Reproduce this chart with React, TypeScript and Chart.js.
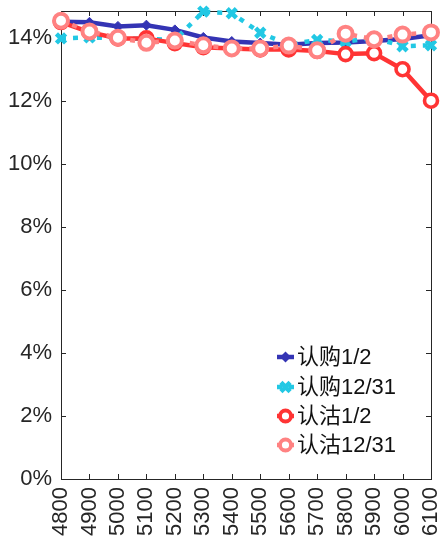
import React, { useEffect, useRef } from 'react';
import { Chart, registerables } from 'chart.js';

Chart.register(...registerables);

const strikes = ['4800', '4900', '5000', '5100', '5200', '5300', '5400', '5500', '5600', '5700', '5800', '5900', '6000', '6100'];
const call0102 = [14.53, 14.51, 14.38, 14.42, 14.27, 14.03, 13.9, 13.85, 13.8, 13.85, 13.87, 13.92, 13.98, 14.1];
const call1231 = [14.0, 14.03, 14.0, 13.98, 13.95, 14.85, 14.8, 14.18, 13.8, 13.95, 13.9, 14.02, 13.75, 13.78];
const put0102 = [14.52, 14.2, 14.0, 14.0, 13.85, 13.72, 13.68, 13.65, 13.65, 13.6, 13.5, 13.53, 13.02, 12.02];
const put1231 = [14.56, 14.22, 14.02, 13.86, 13.93, 13.78, 13.68, 13.68, 13.77, 13.62, 14.15, 13.97, 14.12, 14.19];
const yTicks = [0, 2, 4, 6, 8, 10, 12, 14];
const yMax = 14.87;
const seriesNames = ['认购1/2', '认购12/31', '认沽1/2', '认沽12/31'];

const BLUE = '#3434B4';
const CYAN = '#22C8E4';
const RED = '#FF3434';
const SALMON = '#FF8282';
const AXIS = '#262626';
const FONT = '"Liberation Sans", Arial, "Noto Sans CJK SC", sans-serif';

function drawMarker(ctx: CanvasRenderingContext2D, kind: string, x: number, y: number, color: string) {
  ctx.save();
  ctx.setLineDash([]);
  if (kind === 'diamond') {
    const r = 5.5;
    ctx.fillStyle = color;
    ctx.beginPath();
    ctx.moveTo(x, y - r);
    ctx.lineTo(x + r, y);
    ctx.lineTo(x, y + r);
    ctx.lineTo(x - r, y);
    ctx.closePath();
    ctx.fill();
  } else if (kind === 'cross') {
    const r = 4.6;
    ctx.strokeStyle = color;
    ctx.lineWidth = 4.5;
    ctx.beginPath();
    ctx.moveTo(x - r, y - r);
    ctx.lineTo(x + r, y + r);
    ctx.moveTo(x + r, y - r);
    ctx.lineTo(x - r, y + r);
    ctx.stroke();
  } else {
    ctx.strokeStyle = color;
    ctx.fillStyle = '#fff';
    ctx.lineWidth = 3.8;
    ctx.beginPath();
    ctx.arc(x, y, 5.5, 0, Math.PI * 2);
    ctx.fill();
    ctx.stroke();
  }
  ctx.restore();
}

const framePlugin = {
  id: 'frame',
  beforeDatasetsDraw(chart: any) {
    const { ctx, chartArea } = chart;
    const { left, right, top, bottom } = chartArea;
    const xs = chart.scales.x;
    const ys = chart.scales.y;
    ctx.save();
    ctx.strokeStyle = AXIS;
    ctx.lineWidth = 1;
    ctx.strokeRect(Math.round(left) + 0.5, Math.round(top) + 0.5, Math.round(right - left), Math.round(bottom - top));
    ctx.beginPath();
    const tl = 5;
    strikes.forEach((_, i) => {
      const x = Math.round(xs.getPixelForValue(i)) + 0.5;
      ctx.moveTo(x, bottom);
      ctx.lineTo(x, bottom - tl);
      ctx.moveTo(x, top);
      ctx.lineTo(x, top + tl);
    });
    yTicks.forEach((v) => {
      const y = Math.round(ys.getPixelForValue(v)) + 0.5;
      ctx.moveTo(left, y);
      ctx.lineTo(left + tl, y);
      ctx.moveTo(right, y);
      ctx.lineTo(right - tl, y);
    });
    ctx.stroke();
    ctx.restore();
  },
};

const legendPlugin = {
  id: 'customLegend',
  afterDatasetsDraw(chart: any) {
    const { ctx } = chart;
    const rows = [357, 387, 416, 445];
    const styles = [
      { color: BLUE, dash: [] as number[], marker: 'diamond' },
      { color: CYAN, dash: [5, 7], marker: 'cross' },
      { color: RED, dash: [] as number[], marker: 'circle' },
      { color: SALMON, dash: [5, 7], marker: 'circle' },
    ];
    ctx.save();
    rows.forEach((y, i) => {
      const s = styles[i];
      ctx.strokeStyle = s.color;
      ctx.lineWidth = 4.5;
      ctx.setLineDash(s.dash);
      ctx.beginPath();
      ctx.moveTo(277, y);
      ctx.lineTo(294, y);
      ctx.stroke();
      drawMarker(ctx, s.marker, 285.5, y, s.color);
      ctx.setLineDash([]);
      ctx.fillStyle = '#111';
      ctx.font = '22px ' + FONT;
      ctx.textBaseline = 'middle';
      ctx.textAlign = 'left';
      ctx.fillText(seriesNames[i], 297, y + 1);
    });
    ctx.restore();
  },
};

export default function App() {
  const ref = useRef<HTMLCanvasElement | null>(null);
  useEffect(() => {
    if (!ref.current) return;
    const chart = new Chart(ref.current, {
      type: 'line',
      data: {
        labels: strikes,
        datasets: [
          {
            label: seriesNames[0],
            data: call0102,
            borderColor: BLUE,
            backgroundColor: BLUE,
            borderWidth: 4.5,
            pointStyle: 'rectRot',
            pointRadius: 5,
            pointBorderWidth: 1,
            pointBackgroundColor: BLUE,
            pointBorderColor: BLUE,
            order: 4,
            clip: false as any,
          },
          {
            label: seriesNames[1],
            data: call1231,
            borderColor: CYAN,
            backgroundColor: CYAN,
            borderWidth: 4.5,
            borderDash: [5, 7],
            borderCapStyle: 'butt',
            pointStyle: 'crossRot',
            pointRadius: 6.5,
            pointBorderWidth: 4.5,
            pointBorderColor: CYAN,
            order: 3,
            clip: false as any,
          },
          {
            label: seriesNames[2],
            data: put0102,
            borderColor: RED,
            backgroundColor: '#fff',
            borderWidth: 4.5,
            pointStyle: 'circle',
            pointRadius: 6.5,
            pointBorderWidth: 3.6,
            pointBackgroundColor: '#fff',
            pointBorderColor: RED,
            order: 2,
            clip: false as any,
          },
          {
            label: seriesNames[3],
            data: put1231,
            borderColor: SALMON,
            backgroundColor: '#fff',
            borderWidth: 4.5,
            borderDash: [5, 7],
            borderCapStyle: 'butt',
            pointStyle: 'circle',
            pointRadius: 7,
            pointBorderWidth: 4,
            pointBackgroundColor: '#fff',
            pointBorderColor: SALMON,
            order: 1,
            clip: false as any,
          },
        ],
      },
      options: {
        responsive: false,
        animation: false,
        devicePixelRatio: 1,
        layout: { padding: { top: 5, right: 10, left: 0, bottom: 0 } },
        plugins: {
          legend: { display: false },
          tooltip: { enabled: false },
        },
        scales: {
          x: {
            type: 'category',
            offset: false,
            grid: { display: false, drawTicks: false },
            border: { display: false },
            ticks: {
              autoSkip: false,
              minRotation: 90,
              maxRotation: 90,
              padding: 8,
              color: AXIS,
              font: { family: FONT, size: 22 },
            },
            afterFit(scale: any) {
              scale.height = 62;
              scale.paddingLeft = 0;
              scale.paddingRight = 0;
            },
          },
          y: {
            min: 0,
            max: yMax,
            grid: { display: false, drawTicks: false },
            border: { display: false },
            ticks: {
              padding: 9,
              color: AXIS,
              font: { family: FONT, size: 22 },
              callback: (v: any) => v + '%',
            },
            afterBuildTicks(scale: any) {
              scale.ticks = yTicks.map((v) => ({ value: v }));
            },
            afterFit(scale: any) {
              scale.width = 61;
              scale.paddingTop = 0;
              scale.paddingBottom = 0;
            },
          },
        },
      },
      plugins: [framePlugin, legendPlugin],
    });
    return () => chart.destroy();
  }, []);
  return (
    <div style={{ position: 'fixed', left: 0, top: 0, width: 442, height: 541, background: '#fff' }}>
      <canvas ref={ref} width={442} height={541} style={{ display: 'block' }} />
    </div>
  );
}
